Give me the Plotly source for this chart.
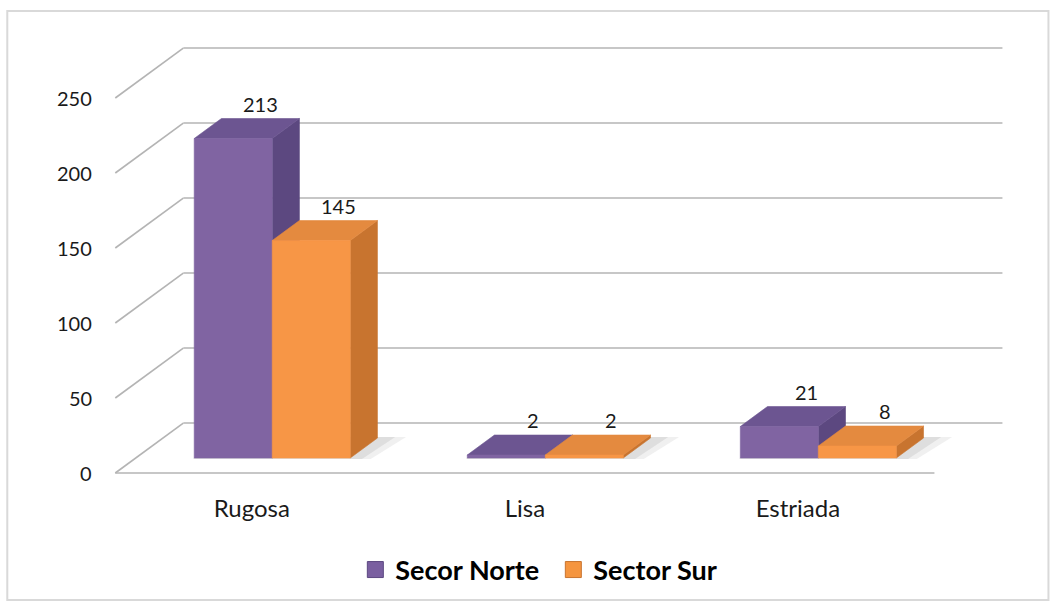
import plotly.graph_objects as go

# ---- data -------------------------------------------------------------
categories = ["Rugosa", "Lisa", "Estriada"]
secor_norte = [213, 2, 21]
sector_sur = [145, 2, 8]
series_names = ["Secor Norte", "Sector Sur"]
y_ticks = [0, 50, 100, 150, 200, 250]

# ---- style ------------------------------------------------------------
FONT = "Lato, 'Open Sans', sans-serif"
TEXT_COLOR = "#1a1a1a"
GRID_COLOR = "#b4b4b4"
PALETTES = [
    dict(front="#8064A2", top="#6C5591", side="#5C4880", legend="#7A5FA0"),
    dict(front="#F79646", top="#E48A3F", side="#C8742F", legend="#F5953F"),
]

W, H = 1055, 608
# oblique 3-D projection: offset of the back wall relative to the floor front
DX = 0.249      # in category units
DY = 33.3       # in value units
GAP = 1.5       # gap width between category groups (fraction of a bar)
BAR_W = 1.0 / (len(series_names) + GAP)
Z0, Z1 = 0.3, 0.7   # depth span of the bars (0 = floor front, 1 = back wall)

# pixel scale of the axes
PX_PER_CAT = 273.0
PX_PER_VAL = 1.5
FLOOR_LEFT_PX = 115.0
FLOOR_FRONT_PX = 473.0
x_range = [-0.6, 2.85]
y_range = [-6, 292]

m_l = FLOOR_LEFT_PX + (x_range[0] + 0.5) * PX_PER_CAT
plot_w = (x_range[1] - x_range[0]) * PX_PER_CAT
m_r = W - m_l - plot_w
m_t = FLOOR_FRONT_PX - y_range[1] * PX_PER_VAL
bottom_px = FLOOR_FRONT_PX - y_range[0] * PX_PER_VAL
m_b = H - bottom_px
plot_h = bottom_px - m_t


def paper_x(px):
    return (px - m_l) / plot_w


def paper_y(py):
    return (bottom_px - py) / plot_h


def proj(c, v, z):
    return c + z * DX, v + z * DY


fig = go.Figure()

# ---- walls and floor gridlines ---------------------------------------
gx, gy = [], []
for v in y_ticks:
    # back wall line
    for c in (-0.5, 2.5):
        px, py = proj(c, v, 1)
        gx.append(px)
        gy.append(py)
    gx.append(None)
    gy.append(None)
    # side wall diagonal
    for z in (0, 1):
        px, py = proj(-0.5, v, z)
        gx.append(px)
        gy.append(py)
    gx.append(None)
    gy.append(None)
# floor front edge
for c in (-0.5, 2.5):
    px, py = proj(c, 0, 0)
    gx.append(px)
    gy.append(py)

fig.add_trace(go.Scatter(
    x=gx, y=gy, mode="lines",
    line=dict(color=GRID_COLOR, width=1.6),
    hoverinfo="skip", showlegend=False,
))


def poly(points, color, opacity=1.0, line_color=None):
    xs = [p[0] for p in points] + [points[0][0]]
    ys = [p[1] for p in points] + [points[0][1]]
    fig.add_trace(go.Scatter(
        x=xs, y=ys, mode="lines", fill="toself",
        fillcolor=color, opacity=opacity,
        line=dict(color=line_color or color, width=0.6),
        hoverinfo="skip", showlegend=False,
    ))


# ---- soft floor shadows ----------------------------------------------
series_values = [secor_norte, sector_sur]
for i in range(len(categories)):
    left = i - BAR_W
    right = i + BAR_W
    for grow, alpha in ((0.10, 0.10), (0.06, 0.14)):
        pts = [proj(left, 0, Z0 - 0.02), proj(right + grow * 0.8, 0, Z0 - 0.02),
               proj(right + grow, 0, Z1 + 0.02), proj(left, 0, Z1 + 0.02)]
        poly(pts, "rgba(110,110,110,%.2f)" % alpha, line_color="rgba(0,0,0,0)")

# ---- 3-D bars ---------------------------------------------------------
annotations = []
for i in range(len(categories)):
    for s, values in enumerate(series_values):
        v = values[i]
        pal = PALETTES[s]
        x0 = i - BAR_W + s * BAR_W
        x1 = x0 + BAR_W
        side = [proj(x1, 0, Z0), proj(x1, 0, Z1), proj(x1, v, Z1), proj(x1, v, Z0)]
        top = [proj(x0, v, Z0), proj(x1, v, Z0), proj(x1, v, Z1), proj(x0, v, Z1)]
        front = [proj(x0, 0, Z0), proj(x1, 0, Z0), proj(x1, v, Z0), proj(x0, v, Z0)]
        poly(side, pal["side"])
        poly(top, pal["top"])
        poly(front, pal["front"])
        lx, ly = proj((x0 + x1) / 2, v, Z1)
        annotations.append(dict(
            x=lx, y=ly, xref="x", yref="y", text=str(v), showarrow=False,
            yanchor="middle", yshift=15,
            font=dict(family=FONT, size=20, color=TEXT_COLOR),
        ))

# value axis labels on the front edge of the side wall
for v in y_ticks:
    annotations.append(dict(
        x=-0.5, y=v, xref="x", yref="y", text=str(v), showarrow=False,
        xanchor="right", yanchor="middle", xshift=-21,
        font=dict(family=FONT, size=20, color=TEXT_COLOR),
    ))

# ---- legend entries ---------------------------------------------------
for s, name in enumerate(series_names):
    fig.add_trace(go.Scatter(
        x=[None], y=[None], mode="markers", name=name,
        marker=dict(symbol="square", size=19, color=PALETTES[s]["legend"],
                    line=dict(color=PALETTES[s]["side"], width=1)),
    ))

fig.update_layout(
    width=W, height=H, autosize=False,
    margin=dict(l=m_l, r=m_r, t=m_t, b=m_b, pad=0),
    paper_bgcolor="white", plot_bgcolor="white",
    font=dict(family=FONT, color=TEXT_COLOR),
    showlegend=True,
    legend=dict(
        orientation="h", x=paper_x(355), y=paper_y(570),
        xanchor="left", yanchor="middle",
        font=dict(family=FONT, size=27, color="#000000", weight="bold"),
        bgcolor="rgba(0,0,0,0)",
        entrywidth=153, entrywidthmode="pixels",
    ),
    xaxis=dict(
        range=x_range, tickvals=list(range(len(categories))), ticktext=categories,
        showgrid=False, zeroline=False, showline=False, ticks="",
        ticklabelstandoff=10, fixedrange=True,
        tickfont=dict(family=FONT, size=24, color=TEXT_COLOR),
    ),
    yaxis=dict(
        range=y_range, showgrid=False, zeroline=False, showline=False,
        showticklabels=False, ticks="", fixedrange=True,
    ),
    annotations=annotations,
    shapes=[dict(
        type="rect", xref="paper", yref="paper",
        x0=paper_x(7), x1=paper_x(1048), y0=paper_y(600), y1=paper_y(11),
        line=dict(color="#d9d9d9", width=2), fillcolor="rgba(0,0,0,0)",
        layer="below",
    )],
)

fig.write_html("out.html")
